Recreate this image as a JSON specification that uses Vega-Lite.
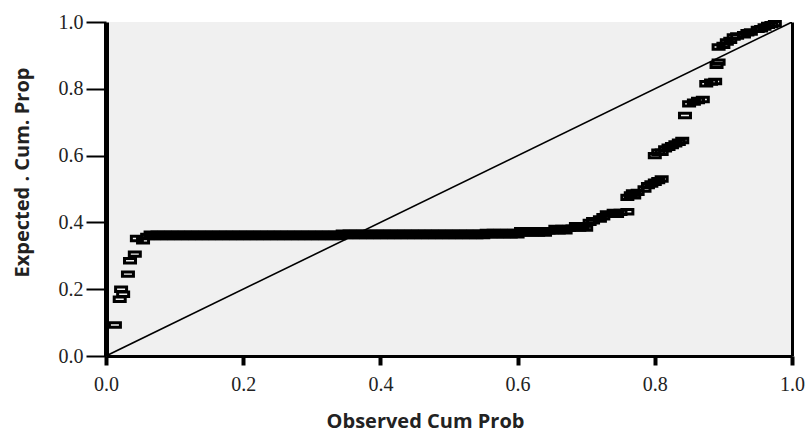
{
  "$schema": "https://vega.github.io/schema/vega-lite/v6.json",
  "width": 686,
  "height": 334,
  "autosize": {"type": "none"},
  "padding": {"left": 106, "top": 22, "right": 16, "bottom": 77},
  "background": "white",
  "config": {
    "view": {"fill": "#f0f0f0", "stroke": null},
    "axis": {"grid": false, "domainColor": "black", "tickColor": "black", "labelColor": "#222", "titleColor": "#222"}
  },
  "datasets": {
    "pts": [
      {"x": 0.013, "y": 0.093}, {"x": 0.02, "y": 0.17}, {"x": 0.022, "y": 0.2}, {"x": 0.025, "y": 0.185},
      {"x": 0.032, "y": 0.245}, {"x": 0.035, "y": 0.285}, {"x": 0.042, "y": 0.305}, {"x": 0.045, "y": 0.352},
      {"x": 0.054, "y": 0.345},
      {"x": 0.06, "y": 0.358}, {"x": 0.07, "y": 0.358}, {"x": 0.08, "y": 0.358}, {"x": 0.09, "y": 0.358},
      {"x": 0.1, "y": 0.358}, {"x": 0.11, "y": 0.358}, {"x": 0.12, "y": 0.358}, {"x": 0.13, "y": 0.358},
      {"x": 0.14, "y": 0.358}, {"x": 0.15, "y": 0.358}, {"x": 0.16, "y": 0.358}, {"x": 0.17, "y": 0.358},
      {"x": 0.18, "y": 0.358}, {"x": 0.19, "y": 0.358}, {"x": 0.2, "y": 0.358}, {"x": 0.21, "y": 0.358},
      {"x": 0.22, "y": 0.358}, {"x": 0.23, "y": 0.358}, {"x": 0.24, "y": 0.358}, {"x": 0.25, "y": 0.358},
      {"x": 0.26, "y": 0.358}, {"x": 0.27, "y": 0.358}, {"x": 0.28, "y": 0.358}, {"x": 0.29, "y": 0.358},
      {"x": 0.3, "y": 0.358}, {"x": 0.31, "y": 0.358}, {"x": 0.32, "y": 0.358}, {"x": 0.33, "y": 0.358},
      {"x": 0.34, "y": 0.358}, {"x": 0.35, "y": 0.361}, {"x": 0.36, "y": 0.361}, {"x": 0.37, "y": 0.361},
      {"x": 0.38, "y": 0.361}, {"x": 0.39, "y": 0.361}, {"x": 0.4, "y": 0.361}, {"x": 0.41, "y": 0.361},
      {"x": 0.42, "y": 0.361}, {"x": 0.43, "y": 0.361}, {"x": 0.44, "y": 0.361}, {"x": 0.45, "y": 0.361},
      {"x": 0.46, "y": 0.361}, {"x": 0.47, "y": 0.361}, {"x": 0.48, "y": 0.361}, {"x": 0.49, "y": 0.361},
      {"x": 0.5, "y": 0.361}, {"x": 0.51, "y": 0.361}, {"x": 0.52, "y": 0.361}, {"x": 0.53, "y": 0.361},
      {"x": 0.54, "y": 0.361}, {"x": 0.55, "y": 0.361}, {"x": 0.56, "y": 0.363}, {"x": 0.57, "y": 0.363},
      {"x": 0.58, "y": 0.363}, {"x": 0.59, "y": 0.363}, {"x": 0.6, "y": 0.363}, {"x": 0.61, "y": 0.368},
      {"x": 0.62, "y": 0.368}, {"x": 0.63, "y": 0.368}, {"x": 0.64, "y": 0.368}, {"x": 0.65, "y": 0.375},
      {"x": 0.66, "y": 0.375}, {"x": 0.67, "y": 0.375}, {"x": 0.68, "y": 0.383}, {"x": 0.69, "y": 0.383},
      {"x": 0.7, "y": 0.383},
      {"x": 0.065, "y": 0.365}, {"x": 0.075, "y": 0.365}, {"x": 0.085, "y": 0.365}, {"x": 0.095, "y": 0.365},
      {"x": 0.105, "y": 0.365}, {"x": 0.115, "y": 0.365}, {"x": 0.125, "y": 0.365}, {"x": 0.135, "y": 0.365},
      {"x": 0.145, "y": 0.365}, {"x": 0.155, "y": 0.365}, {"x": 0.165, "y": 0.365}, {"x": 0.175, "y": 0.365},
      {"x": 0.185, "y": 0.365}, {"x": 0.195, "y": 0.365}, {"x": 0.205, "y": 0.365}, {"x": 0.215, "y": 0.365},
      {"x": 0.225, "y": 0.365}, {"x": 0.235, "y": 0.365}, {"x": 0.245, "y": 0.365}, {"x": 0.255, "y": 0.365},
      {"x": 0.265, "y": 0.365}, {"x": 0.275, "y": 0.365}, {"x": 0.285, "y": 0.365}, {"x": 0.295, "y": 0.365},
      {"x": 0.305, "y": 0.365}, {"x": 0.315, "y": 0.365}, {"x": 0.325, "y": 0.365}, {"x": 0.335, "y": 0.365},
      {"x": 0.345, "y": 0.368}, {"x": 0.355, "y": 0.368}, {"x": 0.365, "y": 0.368}, {"x": 0.375, "y": 0.368},
      {"x": 0.385, "y": 0.368}, {"x": 0.395, "y": 0.368}, {"x": 0.405, "y": 0.368}, {"x": 0.415, "y": 0.368},
      {"x": 0.425, "y": 0.368}, {"x": 0.435, "y": 0.368}, {"x": 0.445, "y": 0.368}, {"x": 0.455, "y": 0.368},
      {"x": 0.465, "y": 0.368}, {"x": 0.475, "y": 0.368}, {"x": 0.485, "y": 0.368}, {"x": 0.495, "y": 0.368},
      {"x": 0.505, "y": 0.368}, {"x": 0.515, "y": 0.368}, {"x": 0.525, "y": 0.368}, {"x": 0.535, "y": 0.368},
      {"x": 0.545, "y": 0.368}, {"x": 0.555, "y": 0.37}, {"x": 0.565, "y": 0.37}, {"x": 0.575, "y": 0.37},
      {"x": 0.585, "y": 0.37}, {"x": 0.595, "y": 0.37}, {"x": 0.605, "y": 0.375}, {"x": 0.615, "y": 0.375},
      {"x": 0.625, "y": 0.375}, {"x": 0.635, "y": 0.375}, {"x": 0.645, "y": 0.375}, {"x": 0.655, "y": 0.382},
      {"x": 0.665, "y": 0.382}, {"x": 0.675, "y": 0.382}, {"x": 0.685, "y": 0.39}, {"x": 0.695, "y": 0.39},
      {"x": 0.705, "y": 0.4}, {"x": 0.71, "y": 0.405}, {"x": 0.72, "y": 0.41}, {"x": 0.725, "y": 0.417},
      {"x": 0.73, "y": 0.425}, {"x": 0.74, "y": 0.43}, {"x": 0.745, "y": 0.424}, {"x": 0.75, "y": 0.43},
      {"x": 0.76, "y": 0.432},
      {"x": 0.76, "y": 0.475}, {"x": 0.765, "y": 0.482}, {"x": 0.768, "y": 0.488}, {"x": 0.77, "y": 0.48},
      {"x": 0.775, "y": 0.49}, {"x": 0.785, "y": 0.5}, {"x": 0.79, "y": 0.51}, {"x": 0.795, "y": 0.515},
      {"x": 0.8, "y": 0.52}, {"x": 0.805, "y": 0.525}, {"x": 0.81, "y": 0.53},
      {"x": 0.8, "y": 0.6}, {"x": 0.805, "y": 0.61}, {"x": 0.81, "y": 0.61}, {"x": 0.815, "y": 0.62},
      {"x": 0.82, "y": 0.625}, {"x": 0.825, "y": 0.63}, {"x": 0.83, "y": 0.635}, {"x": 0.835, "y": 0.64},
      {"x": 0.84, "y": 0.645},
      {"x": 0.844, "y": 0.72},
      {"x": 0.85, "y": 0.755}, {"x": 0.857, "y": 0.76}, {"x": 0.863, "y": 0.765}, {"x": 0.87, "y": 0.768},
      {"x": 0.875, "y": 0.815}, {"x": 0.882, "y": 0.82}, {"x": 0.888, "y": 0.822},
      {"x": 0.89, "y": 0.87}, {"x": 0.893, "y": 0.88},
      {"x": 0.893, "y": 0.925}, {"x": 0.9, "y": 0.93}, {"x": 0.905, "y": 0.94}, {"x": 0.91, "y": 0.945},
      {"x": 0.915, "y": 0.955}, {"x": 0.92, "y": 0.958}, {"x": 0.93, "y": 0.962}, {"x": 0.935, "y": 0.968},
      {"x": 0.94, "y": 0.97}, {"x": 0.95, "y": 0.978}, {"x": 0.955, "y": 0.98}, {"x": 0.96, "y": 0.985},
      {"x": 0.965, "y": 0.99}, {"x": 0.97, "y": 0.992}, {"x": 0.975, "y": 0.995}
    ],
    "ref": [{"x": 0, "y": 0}, {"x": 1, "y": 1}]
  },
  "layer": [
    {
      "data": {"name": "ref"},
      "mark": {"type": "line", "color": "black", "strokeWidth": 1.6, "clip": true},
      "encoding": {
        "x": {
          "field": "x", "type": "quantitative",
          "scale": {"domain": [0, 1], "nice": false, "zero": false},
          "axis": {
            "title": "Observed Cum Prob", "values": [0, 0.2, 0.4, 0.6, 0.8, 1], "format": ".1f",
            "domainWidth": 3, "tickWidth": 4, "tickSize": 9, "labelPadding": 9,
            "labelFont": "Liberation Serif", "labelFontSize": 20, "labelFlush": false,
            "titleFont": "Open Sans", "titleFontWeight": "bold", "titleFontSize": 20,
            "titleX": 319, "titleY": 65, "titleBaseline": "middle", "titleAnchor": "middle"
          }
        },
        "y": {
          "field": "y", "type": "quantitative",
          "scale": {"domain": [0, 1], "nice": false, "zero": false},
          "axis": {
            "title": "Expected . Cum. Prop", "values": [0, 0.2, 0.4, 0.6, 0.8, 1], "format": ".1f",
            "domainWidth": 5, "tickWidth": 2, "tickSize": 20, "labelPadding": 3,
            "labelFont": "Liberation Serif", "labelFontSize": 20, "labelFlush": false,
            "titleFont": "Open Sans", "titleFontWeight": "bold", "titleFontSize": 20,
            "titleX": -84, "titleY": 150, "titleAngle": -90, "titleBaseline": "middle", "titleAlign": "center"
          }
        }
      }
    },
    {
      "data": {"name": "pts"},
      "mark": {
        "type": "point", "filled": false, "stroke": "black", "strokeWidth": 3, "opacity": 1,
        "shape": "M-1,-0.4H1V0.4H-1Z", "size": 121
      },
      "encoding": {
        "x": {"field": "x", "type": "quantitative"},
        "y": {"field": "y", "type": "quantitative", "axis": {"orient": "right", "title": null, "labels": false, "ticks": false, "domainWidth": 3, "domainColor": "black"}}
      }
    }
  ],
  "resolve": {"axis": {"y": "independent"}}
}
